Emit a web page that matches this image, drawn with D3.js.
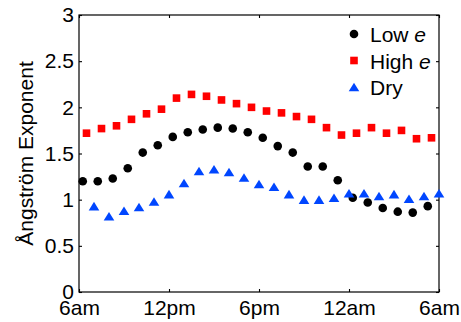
<!DOCTYPE html>
<html>
<head>
<meta charset="utf-8">
<script src="https://cdn.jsdelivr.net/npm/d3@7"></script>
<style>
  body { margin: 0; background: #fff; }
  svg { display: block; font-family: "Liberation Sans", Arial, Helvetica, sans-serif; }
  .axis path { display: none; }
  .axis line { stroke: #000; stroke-width: 1.1; }
  .axis text { font-size: 21px; fill: #000; }
</style>
</head>
<body>
<div id="chart"></div>
<script>
// hours after 6am for each series (markers are staggered a bit)
var lowTimes  = [0.25, 1.25, 2.25, 3.25, 4.25, 5.25, 6.25, 7.25, 8.25, 9.25, 10.25, 11.25,
                 12.25, 13.25, 14.25, 15.25, 16.25, 17.25, 18.25, 19.25, 20.25, 21.25, 22.25, 23.25];
var highTimes = [0.5, 1.5, 2.5, 3.5, 4.5, 5.5, 6.5, 7.5, 8.5, 9.5, 10.5, 11.5,
                 12.5, 13.5, 14.5, 15.5, 16.5, 17.5, 18.5, 19.5, 20.5, 21.5, 22.5, 23.5];
var dryTimes  = [1, 2, 3, 4, 5, 6, 7, 8, 9, 10, 11, 12,
                 13, 14, 15, 16, 17, 18, 19, 20, 21, 22, 23, 24];

// Angstrom exponent values
var lowE  = [1.20, 1.20, 1.23, 1.34, 1.51, 1.59, 1.68, 1.73, 1.76, 1.78, 1.77, 1.73,
             1.67, 1.58, 1.51, 1.36, 1.36, 1.21, 1.02, 0.97, 0.91, 0.87, 0.86, 0.93];
var highE = [1.72, 1.77, 1.80, 1.87, 1.93, 1.98, 2.10, 2.14, 2.12, 2.08, 2.04, 2.00,
             1.96, 1.94, 1.90, 1.87, 1.78, 1.70, 1.72, 1.78, 1.72, 1.75, 1.66, 1.67];
var dry   = [0.93, 0.82, 0.88, 0.92, 0.98, 1.06, 1.18, 1.31, 1.33, 1.30, 1.24, 1.17,
             1.14, 1.06, 1.00, 1.00, 1.02, 1.07, 1.07, 1.04, 1.06, 1.01, 1.04, 1.07];

var xTicks = [0, 6, 12, 18, 24];
var xTickLabels = ["6am", "12pm", "6pm", "12am", "6am"];
var yTicks = [0, 0.5, 1, 1.5, 2, 2.5, 3];
var seriesNames = ["Low", "High", "Dry"];

var width = 461, height = 322;
var margin = { top: 15, right: 22, bottom: 30, left: 79 };
var w = width - margin.left - margin.right,
    h = height - margin.top - margin.bottom;

var svg = d3.select("#chart").append("svg")
  .attr("width", width)
  .attr("height", height);

var g = svg.append("g")
  .attr("transform", "translate(" + margin.left + "," + margin.top + ")");

var x = d3.scaleLinear().domain([0, 24]).range([0, w]);
var y = d3.scaleLinear().domain([0, 3]).range([h, 0]);

// axes, ticks pointing inward on all four sides
g.append("g").attr("class", "axis")
  .attr("transform", "translate(0," + h + ")")
  .call(d3.axisBottom(x).tickValues(xTicks)
    .tickFormat(function (d, i) { return xTickLabels[i]; })
    .tickSizeInner(-3).tickSizeOuter(0).tickPadding(8));

g.append("g").attr("class", "axis")
  .call(d3.axisTop(x).tickValues(xTicks).tickFormat("")
    .tickSizeInner(-3).tickSizeOuter(0));

g.append("g").attr("class", "axis")
  .call(d3.axisLeft(y).tickValues(yTicks).tickFormat(d3.format("~g"))
    .tickSizeInner(-3).tickSizeOuter(0).tickPadding(5));

g.append("g").attr("class", "axis")
  .attr("transform", "translate(" + w + ",0)")
  .call(d3.axisRight(y).tickValues(yTicks).tickFormat("")
    .tickSizeInner(-3).tickSizeOuter(0));

g.append("rect")
  .attr("width", w).attr("height", h)
  .attr("fill", "none").attr("stroke", "#000").attr("stroke-width", 1.2);

// y axis title
svg.append("text")
  .attr("transform", "translate(33," + (margin.top + h / 2) + ") rotate(-90)")
  .attr("text-anchor", "middle")
  .style("font-size", "21px")
  .text("Ångström Exponent");

// markers
var blue = "#0046ff";
var tri = "M0,-4.3L5.3,4.3L-5.3,4.3Z";

g.selectAll(".low").data(lowE).enter().append("circle")
  .attr("class", "low")
  .attr("cx", function (d, i) { return x(lowTimes[i]); })
  .attr("cy", function (d) { return y(d); })
  .attr("r", 4.3)
  .attr("fill", "#000");

g.selectAll(".high").data(highE).enter().append("rect")
  .attr("class", "high")
  .attr("x", function (d, i) { return x(highTimes[i]) - 3.8; })
  .attr("y", function (d) { return y(d) - 3.8; })
  .attr("width", 7.6).attr("height", 7.6)
  .attr("fill", "#ff0000");

g.selectAll(".dry").data(dry).enter().append("path")
  .attr("class", "dry")
  .attr("transform", function (d, i) { return "translate(" + x(dryTimes[i]) + "," + y(d) + ")"; })
  .attr("d", tri)
  .attr("fill", blue);

// legend
var legend = svg.append("g").attr("transform", "translate(354,34)");
var rowH = 26.5;

legend.append("circle").attr("cx", 0).attr("cy", 0).attr("r", 4.3).attr("fill", "#000");
legend.append("rect").attr("x", -3.8).attr("y", rowH - 3.8).attr("width", 7.6).attr("height", 7.6).attr("fill", "#ff0000");
legend.append("path").attr("transform", "translate(0," + (2 * rowH) + ")").attr("d", tri).attr("fill", blue);

legend.selectAll("text").data(seriesNames).enter().append("text")
  .attr("x", 16)
  .attr("y", function (d, i) { return i * rowH + 8; })
  .style("font-size", "21px")
  .each(function (d) {
    var t = d3.select(this);
    if (d === "Dry") {
      t.text(d);
    } else {
      t.append("tspan").text(d + " ");
      t.append("tspan").style("font-style", "italic").text("e");
    }
  });
</script>
</body>
</html>
